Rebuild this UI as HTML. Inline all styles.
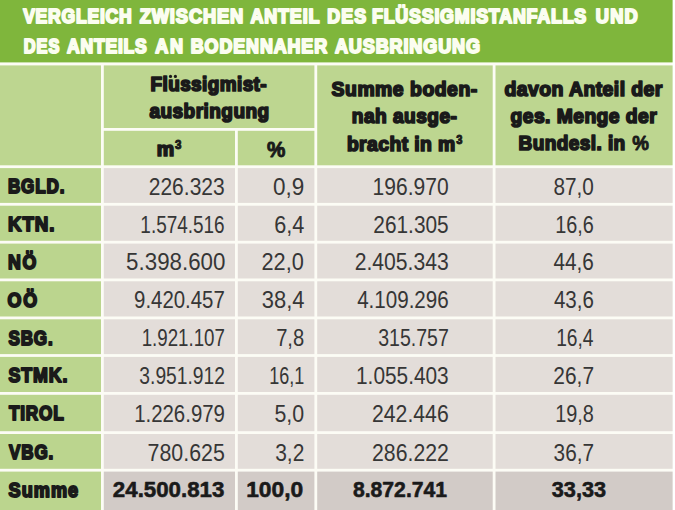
<!DOCTYPE html>
<html><head><meta charset="utf-8"><style>
html,body{margin:0;padding:0;background:#fff;overflow:hidden}
svg{display:block}
text{font-family:"Liberation Sans", sans-serif}
</style></head><body>
<svg width="675" height="510" viewBox="0 0 675 510">
<rect x="0" y="0" width="675" height="510" fill="#ffffff"/>
<rect x="0" y="0" width="672.60" height="510" fill="#fcfcf5"/>
<rect x="0" y="0" width="672.60" height="62.4" fill="#7fb63c"/>
<rect x="0.00" y="65.40" width="101.00" height="99.90" fill="#bdd690"/>
<rect x="103.80" y="65.40" width="210.60" height="62.60" fill="#bdd690"/>
<rect x="103.80" y="130.80" width="131.20" height="34.50" fill="#bdd690"/>
<rect x="237.80" y="130.80" width="76.60" height="34.50" fill="#bdd690"/>
<rect x="317.20" y="65.40" width="175.50" height="99.90" fill="#bdd690"/>
<rect x="495.50" y="65.40" width="177.10" height="99.90" fill="#bdd690"/>
<rect x="0.00" y="168.10" width="101.00" height="34.80" fill="#bbd58e"/>
<rect x="103.80" y="168.10" width="131.20" height="34.80" fill="#e3ddd9"/>
<rect x="237.80" y="168.10" width="76.60" height="34.80" fill="#e3ddd9"/>
<rect x="317.20" y="168.10" width="175.50" height="34.80" fill="#e3ddd9"/>
<rect x="495.50" y="168.10" width="177.10" height="34.80" fill="#e3ddd9"/>
<rect x="0.00" y="205.70" width="101.00" height="35.10" fill="#bbd58e"/>
<rect x="103.80" y="205.70" width="131.20" height="35.10" fill="#e3ddd9"/>
<rect x="237.80" y="205.70" width="76.60" height="35.10" fill="#e3ddd9"/>
<rect x="317.20" y="205.70" width="175.50" height="35.10" fill="#e3ddd9"/>
<rect x="495.50" y="205.70" width="177.10" height="35.10" fill="#e3ddd9"/>
<rect x="0.00" y="243.60" width="101.00" height="34.90" fill="#bbd58e"/>
<rect x="103.80" y="243.60" width="131.20" height="34.90" fill="#e3ddd9"/>
<rect x="237.80" y="243.60" width="76.60" height="34.90" fill="#e3ddd9"/>
<rect x="317.20" y="243.60" width="175.50" height="34.90" fill="#e3ddd9"/>
<rect x="495.50" y="243.60" width="177.10" height="34.90" fill="#e3ddd9"/>
<rect x="0.00" y="281.30" width="101.00" height="35.20" fill="#bbd58e"/>
<rect x="103.80" y="281.30" width="131.20" height="35.20" fill="#e3ddd9"/>
<rect x="237.80" y="281.30" width="76.60" height="35.20" fill="#e3ddd9"/>
<rect x="317.20" y="281.30" width="175.50" height="35.20" fill="#e3ddd9"/>
<rect x="495.50" y="281.30" width="177.10" height="35.20" fill="#e3ddd9"/>
<rect x="0.00" y="319.30" width="101.00" height="34.80" fill="#bbd58e"/>
<rect x="103.80" y="319.30" width="131.20" height="34.80" fill="#e3ddd9"/>
<rect x="237.80" y="319.30" width="76.60" height="34.80" fill="#e3ddd9"/>
<rect x="317.20" y="319.30" width="175.50" height="34.80" fill="#e3ddd9"/>
<rect x="495.50" y="319.30" width="177.10" height="34.80" fill="#e3ddd9"/>
<rect x="0.00" y="356.90" width="101.00" height="35.10" fill="#bbd58e"/>
<rect x="103.80" y="356.90" width="131.20" height="35.10" fill="#e3ddd9"/>
<rect x="237.80" y="356.90" width="76.60" height="35.10" fill="#e3ddd9"/>
<rect x="317.20" y="356.90" width="175.50" height="35.10" fill="#e3ddd9"/>
<rect x="495.50" y="356.90" width="177.10" height="35.10" fill="#e3ddd9"/>
<rect x="0.00" y="394.80" width="101.00" height="36.40" fill="#bbd58e"/>
<rect x="103.80" y="394.80" width="131.20" height="36.40" fill="#e3ddd9"/>
<rect x="237.80" y="394.80" width="76.60" height="36.40" fill="#e3ddd9"/>
<rect x="317.20" y="394.80" width="175.50" height="36.40" fill="#e3ddd9"/>
<rect x="495.50" y="394.80" width="177.10" height="36.40" fill="#e3ddd9"/>
<rect x="0.00" y="434.00" width="101.00" height="34.80" fill="#bbd58e"/>
<rect x="103.80" y="434.00" width="131.20" height="34.80" fill="#e3ddd9"/>
<rect x="237.80" y="434.00" width="76.60" height="34.80" fill="#e3ddd9"/>
<rect x="317.20" y="434.00" width="175.50" height="34.80" fill="#e3ddd9"/>
<rect x="495.50" y="434.00" width="177.10" height="34.80" fill="#e3ddd9"/>
<rect x="0.00" y="471.60" width="101.00" height="38.40" fill="#bbd58e"/>
<rect x="103.80" y="471.60" width="131.20" height="38.40" fill="#d2cbc7"/>
<rect x="237.80" y="471.60" width="76.60" height="38.40" fill="#d2cbc7"/>
<rect x="317.20" y="471.60" width="175.50" height="38.40" fill="#d2cbc7"/>
<rect x="495.50" y="471.60" width="177.10" height="38.40" fill="#d2cbc7"/>
<text transform="translate(23.13 23.35) scale(0.8675 1)" x="0" y="0" font-size="20.20" font-weight="bold" fill="#fbfdf0" stroke="#fbfdf0" stroke-width="1.90" stroke-linejoin="round" vector-effect="non-scaling-stroke" style="letter-spacing:0.928px">VERGLEICH</text>
<text transform="translate(139.71 23.35) scale(0.9055 1)" x="0" y="0" font-size="20.20" font-weight="bold" fill="#fbfdf0" stroke="#fbfdf0" stroke-width="1.90" stroke-linejoin="round" vector-effect="non-scaling-stroke" style="letter-spacing:0.965px">ZWISCHEN</text>
<text transform="translate(250.40 23.35) scale(0.8912 1)" x="0" y="0" font-size="20.20" font-weight="bold" fill="#fbfdf0" stroke="#fbfdf0" stroke-width="1.90" stroke-linejoin="round" vector-effect="non-scaling-stroke" style="letter-spacing:0.917px">ANTEIL</text>
<text transform="translate(327.36 23.35) scale(0.8827 1)" x="0" y="0" font-size="20.20" font-weight="bold" fill="#fbfdf0" stroke="#fbfdf0" stroke-width="1.90" stroke-linejoin="round" vector-effect="non-scaling-stroke" style="letter-spacing:1.257px">DES</text>
<text transform="translate(371.95 23.35) scale(0.8858 1)" x="0" y="0" font-size="20.20" font-weight="bold" fill="#fbfdf0" stroke="#fbfdf0" stroke-width="1.90" stroke-linejoin="round" vector-effect="non-scaling-stroke" style="letter-spacing:0.856px">FLÜSSIGMISTANFALLS</text>
<text transform="translate(595.85 23.35) scale(0.9037 1)" x="0" y="0" font-size="20.20" font-weight="bold" fill="#fbfdf0" stroke="#fbfdf0" stroke-width="1.90" stroke-linejoin="round" vector-effect="non-scaling-stroke" style="letter-spacing:1.331px">UND</text>
<text transform="translate(23.76 53.15) scale(0.8088 1)" x="0" y="0" font-size="20.20" font-weight="bold" fill="#fbfdf0" stroke="#fbfdf0" stroke-width="1.90" stroke-linejoin="round" vector-effect="non-scaling-stroke" style="letter-spacing:1.257px">DES</text>
<text transform="translate(67.11 53.15) scale(0.8678 1)" x="0" y="0" font-size="20.20" font-weight="bold" fill="#fbfdf0" stroke="#fbfdf0" stroke-width="1.90" stroke-linejoin="round" vector-effect="non-scaling-stroke" style="letter-spacing:0.906px">ANTEILS</text>
<text transform="translate(155.30 53.15) scale(0.8947 1)" x="0" y="0" font-size="20.20" font-weight="bold" fill="#fbfdf0" stroke="#fbfdf0" stroke-width="1.90" stroke-linejoin="round" vector-effect="non-scaling-stroke" style="letter-spacing:1.744px">AN</text>
<text transform="translate(190.75 53.15) scale(0.8865 1)" x="0" y="0" font-size="20.20" font-weight="bold" fill="#fbfdf0" stroke="#fbfdf0" stroke-width="1.90" stroke-linejoin="round" vector-effect="non-scaling-stroke" style="letter-spacing:1.014px">BODENNAHER</text>
<text transform="translate(334.90 53.15) scale(0.8952 1)" x="0" y="0" font-size="20.20" font-weight="bold" fill="#fbfdf0" stroke="#fbfdf0" stroke-width="1.90" stroke-linejoin="round" vector-effect="non-scaling-stroke" style="letter-spacing:0.963px">AUSBRINGUNG</text>
<text transform="translate(150.48 90.95) scale(0.9724 1)" x="0" y="0" font-size="19.50" font-weight="bold" fill="#1a1a1a" stroke="#1a1a1a" stroke-width="1.70" stroke-linejoin="round" vector-effect="non-scaling-stroke" style="letter-spacing:0.427px">Flussigmist-</text>
<text transform="translate(149.39 117.95) scale(0.9573 1)" x="0" y="0" font-size="19.87" font-weight="bold" fill="#1a1a1a" stroke="#1a1a1a" stroke-width="1.70" stroke-linejoin="round" vector-effect="non-scaling-stroke" style="letter-spacing:0.493px">ausbringung</text>
<text x="156.76" y="155.75" font-size="19.50" font-weight="bold" fill="#1a1a1a" stroke="#1a1a1a" stroke-width="1.70" stroke-linejoin="round" textLength="17.40" lengthAdjust="spacingAndGlyphs">m</text>
<text transform="translate(331.59 96.45) scale(0.9750 1)" x="0" y="0" font-size="19.87" font-weight="bold" fill="#1a1a1a" stroke="#1a1a1a" stroke-width="1.70" stroke-linejoin="round" vector-effect="non-scaling-stroke" style="letter-spacing:0.539px">Summe boden-</text>
<text transform="translate(351.79 122.95) scale(0.9627 1)" x="0" y="0" font-size="19.87" font-weight="bold" fill="#1a1a1a" stroke="#1a1a1a" stroke-width="1.70" stroke-linejoin="round" vector-effect="non-scaling-stroke" style="letter-spacing:0.476px">nah ausge-</text>
<text transform="translate(346.88 150.75) scale(0.9731 1)" x="0" y="0" font-size="19.87" font-weight="bold" fill="#1a1a1a" stroke="#1a1a1a" stroke-width="1.70" stroke-linejoin="round" vector-effect="non-scaling-stroke" style="letter-spacing:0.436px">bracht in m</text>
<text transform="translate(504.45 96.05) scale(0.9793 1)" x="0" y="0" font-size="19.87" font-weight="bold" fill="#1a1a1a" stroke="#1a1a1a" stroke-width="1.70" stroke-linejoin="round" vector-effect="non-scaling-stroke" style="letter-spacing:0.429px">davon Anteil der</text>
<text transform="translate(510.46 123.05) scale(0.9723 1)" x="0" y="0" font-size="19.87" font-weight="bold" fill="#1a1a1a" stroke="#1a1a1a" stroke-width="1.70" stroke-linejoin="round" vector-effect="non-scaling-stroke" style="letter-spacing:0.460px">ges. Menge der</text>
<text transform="translate(518.58 150.35) scale(0.9578 1)" x="0" y="0" font-size="19.87" font-weight="bold" fill="#1a1a1a" stroke="#1a1a1a" stroke-width="1.70" stroke-linejoin="round" vector-effect="non-scaling-stroke" style="letter-spacing:0.436px">Bundesl. in</text>
<circle cx="170.5" cy="76.4" r="1.6" fill="#1a1a1a"/>
<circle cx="175.4" cy="76.4" r="1.6" fill="#1a1a1a"/>
<text x="266.94" y="156.55" font-size="21.63" font-weight="bold" fill="#1a1a1a" stroke="#1a1a1a" stroke-width="0.90" stroke-linejoin="round" textLength="18.36" lengthAdjust="spacingAndGlyphs">%</text>
<text x="632.18" y="150.45" font-size="21.05" font-weight="bold" fill="#1a1a1a" stroke="#1a1a1a" stroke-width="0.90" stroke-linejoin="round" textLength="16.66" lengthAdjust="spacingAndGlyphs">%</text>
<text x="175.04" y="149.30" font-size="11.89" font-weight="bold" fill="#1a1a1a" stroke="#1a1a1a" stroke-width="1.00" stroke-linejoin="round" textLength="6.38" lengthAdjust="spacingAndGlyphs">3</text>
<text x="456.25" y="144.10" font-size="12.17" font-weight="bold" fill="#1a1a1a" stroke="#1a1a1a" stroke-width="1.00" stroke-linejoin="round" textLength="6.15" lengthAdjust="spacingAndGlyphs">3</text>
<text transform="translate(7.95 193.30) scale(0.8415 1)" x="0" y="0" font-size="20.35" font-weight="bold" fill="#1a1a1a" stroke="#1a1a1a" stroke-width="1.80" stroke-linejoin="round" vector-effect="non-scaling-stroke" style="letter-spacing:0.966px">BGLD.</text>
<text transform="translate(8.05 230.90) scale(0.9208 1)" x="0" y="0" font-size="20.35" font-weight="bold" fill="#1a1a1a" stroke="#1a1a1a" stroke-width="1.80" stroke-linejoin="round" vector-effect="non-scaling-stroke" style="letter-spacing:0.951px">KTN.</text>
<text transform="translate(8.11 268.80) scale(0.8733 1)" x="0" y="0" font-size="20.35" font-weight="bold" fill="#1a1a1a" stroke="#1a1a1a" stroke-width="1.80" stroke-linejoin="round" vector-effect="non-scaling-stroke" style="letter-spacing:1.807px">NÖ</text>
<text transform="translate(7.57 306.50) scale(0.8783 1)" x="0" y="0" font-size="20.35" font-weight="bold" fill="#1a1a1a" stroke="#1a1a1a" stroke-width="1.80" stroke-linejoin="round" vector-effect="non-scaling-stroke" style="letter-spacing:1.913px">OÖ</text>
<text transform="translate(8.41 344.50) scale(0.8384 1)" x="0" y="0" font-size="20.35" font-weight="bold" fill="#1a1a1a" stroke="#1a1a1a" stroke-width="1.80" stroke-linejoin="round" vector-effect="non-scaling-stroke" style="letter-spacing:1.016px">SBG.</text>
<text transform="translate(8.59 382.10) scale(0.8769 1)" x="0" y="0" font-size="20.35" font-weight="bold" fill="#1a1a1a" stroke="#1a1a1a" stroke-width="1.80" stroke-linejoin="round" vector-effect="non-scaling-stroke" style="letter-spacing:0.978px">STMK.</text>
<text transform="translate(8.91 420.00) scale(0.8465 1)" x="0" y="0" font-size="20.35" font-weight="bold" fill="#1a1a1a" stroke="#1a1a1a" stroke-width="1.80" stroke-linejoin="round" vector-effect="non-scaling-stroke" style="letter-spacing:0.960px">TIROL</text>
<text transform="translate(8.98 459.20) scale(0.8384 1)" x="0" y="0" font-size="20.35" font-weight="bold" fill="#1a1a1a" stroke="#1a1a1a" stroke-width="1.80" stroke-linejoin="round" vector-effect="non-scaling-stroke" style="letter-spacing:1.026px">VBG.</text>
<text transform="translate(8.58 496.80) scale(0.9202 1)" x="0" y="0" font-size="19.69" font-weight="bold" fill="#1a1a1a" stroke="#1a1a1a" stroke-width="1.80" stroke-linejoin="round" vector-effect="non-scaling-stroke" style="letter-spacing:1.115px">Summe</text>
<text x="148.74" y="194.90" font-size="24.06" font-weight="normal" fill="#363636" textLength="75.98" lengthAdjust="spacingAndGlyphs">226.323</text>
<text x="272.92" y="194.90" font-size="24.06" font-weight="normal" fill="#363636" textLength="31.24" lengthAdjust="spacingAndGlyphs">0,9</text>
<text x="372.60" y="194.90" font-size="24.06" font-weight="normal" fill="#363636" textLength="76.02" lengthAdjust="spacingAndGlyphs">196.970</text>
<text x="553.50" y="194.90" font-size="24.06" font-weight="normal" fill="#363636" textLength="40.41" lengthAdjust="spacingAndGlyphs">87,0</text>
<text x="140.36" y="232.50" font-size="24.06" font-weight="normal" fill="#363636" textLength="84.28" lengthAdjust="spacingAndGlyphs">1.574.516</text>
<text x="274.30" y="232.50" font-size="24.06" font-weight="normal" fill="#363636" textLength="30.14" lengthAdjust="spacingAndGlyphs">6,4</text>
<text x="373.35" y="232.50" font-size="24.06" font-weight="normal" fill="#363636" textLength="75.32" lengthAdjust="spacingAndGlyphs">261.305</text>
<text x="555.19" y="232.50" font-size="24.06" font-weight="normal" fill="#363636" textLength="38.69" lengthAdjust="spacingAndGlyphs">16,6</text>
<text x="126.11" y="270.40" font-size="24.06" font-weight="normal" fill="#363636" textLength="99.27" lengthAdjust="spacingAndGlyphs">5.398.600</text>
<text x="261.51" y="270.40" font-size="24.06" font-weight="normal" fill="#363636" textLength="42.34" lengthAdjust="spacingAndGlyphs">22,0</text>
<text x="354.74" y="270.40" font-size="24.06" font-weight="normal" fill="#363636" textLength="93.99" lengthAdjust="spacingAndGlyphs">2.405.343</text>
<text x="553.52" y="270.40" font-size="24.06" font-weight="normal" fill="#363636" textLength="40.39" lengthAdjust="spacingAndGlyphs">44,6</text>
<text x="134.04" y="308.10" font-size="24.06" font-weight="normal" fill="#363636" textLength="90.78" lengthAdjust="spacingAndGlyphs">9.420.457</text>
<text x="261.76" y="308.10" font-size="24.06" font-weight="normal" fill="#363636" textLength="42.68" lengthAdjust="spacingAndGlyphs">38,4</text>
<text x="357.13" y="308.10" font-size="24.06" font-weight="normal" fill="#363636" textLength="91.58" lengthAdjust="spacingAndGlyphs">4.109.296</text>
<text x="553.93" y="308.10" font-size="24.06" font-weight="normal" fill="#363636" textLength="39.97" lengthAdjust="spacingAndGlyphs">43,6</text>
<text x="141.67" y="346.10" font-size="24.06" font-weight="normal" fill="#363636" textLength="83.27" lengthAdjust="spacingAndGlyphs">1.921.107</text>
<text x="276.17" y="346.10" font-size="24.06" font-weight="normal" fill="#363636" textLength="28.01" lengthAdjust="spacingAndGlyphs">7,8</text>
<text x="378.16" y="346.10" font-size="24.06" font-weight="normal" fill="#363636" textLength="70.63" lengthAdjust="spacingAndGlyphs">315.757</text>
<text x="556.14" y="346.10" font-size="24.06" font-weight="normal" fill="#363636" textLength="37.43" lengthAdjust="spacingAndGlyphs">16,4</text>
<text x="139.37" y="383.70" font-size="24.06" font-weight="normal" fill="#363636" textLength="85.60" lengthAdjust="spacingAndGlyphs">3.951.912</text>
<text x="269.13" y="383.70" font-size="24.06" font-weight="normal" fill="#363636" textLength="35.05" lengthAdjust="spacingAndGlyphs">16,1</text>
<text x="356.01" y="383.70" font-size="24.06" font-weight="normal" fill="#363636" textLength="92.70" lengthAdjust="spacingAndGlyphs">1.055.403</text>
<text x="553.35" y="383.70" font-size="24.06" font-weight="normal" fill="#363636" textLength="40.70" lengthAdjust="spacingAndGlyphs">26,7</text>
<text x="134.14" y="421.60" font-size="24.06" font-weight="normal" fill="#363636" textLength="90.82" lengthAdjust="spacingAndGlyphs">1.226.979</text>
<text x="274.44" y="421.60" font-size="24.06" font-weight="normal" fill="#363636" textLength="29.69" lengthAdjust="spacingAndGlyphs">5,0</text>
<text x="372.03" y="421.60" font-size="24.06" font-weight="normal" fill="#363636" textLength="76.70" lengthAdjust="spacingAndGlyphs">242.446</text>
<text x="555.19" y="421.60" font-size="24.06" font-weight="normal" fill="#363636" textLength="38.68" lengthAdjust="spacingAndGlyphs">19,8</text>
<text x="147.60" y="460.80" font-size="24.06" font-weight="normal" fill="#363636" textLength="77.29" lengthAdjust="spacingAndGlyphs">780.625</text>
<text x="275.20" y="460.80" font-size="24.06" font-weight="normal" fill="#363636" textLength="29.15" lengthAdjust="spacingAndGlyphs">3,2</text>
<text x="372.03" y="460.80" font-size="24.06" font-weight="normal" fill="#363636" textLength="76.84" lengthAdjust="spacingAndGlyphs">286.222</text>
<text x="553.61" y="460.80" font-size="24.06" font-weight="normal" fill="#363636" textLength="40.44" lengthAdjust="spacingAndGlyphs">36,7</text>
<text x="112.83" y="497.20" font-size="22.06" font-weight="bold" fill="#1a1a1a" stroke="#1a1a1a" stroke-width="0.60" stroke-linejoin="round" textLength="111.58" lengthAdjust="spacingAndGlyphs">24.500.813</text>
<text x="246.17" y="497.20" font-size="22.06" font-weight="bold" fill="#1a1a1a" stroke="#1a1a1a" stroke-width="0.60" stroke-linejoin="round" textLength="56.97" lengthAdjust="spacingAndGlyphs">100,0</text>
<text x="352.93" y="497.20" font-size="22.06" font-weight="bold" fill="#1a1a1a" stroke="#1a1a1a" stroke-width="0.60" stroke-linejoin="round" textLength="94.16" lengthAdjust="spacingAndGlyphs">8.872.741</text>
<text x="551.80" y="497.20" font-size="22.06" font-weight="bold" fill="#1a1a1a" stroke="#1a1a1a" stroke-width="0.60" stroke-linejoin="round" textLength="54.28" lengthAdjust="spacingAndGlyphs">33,33</text>
</svg>
</body></html>
